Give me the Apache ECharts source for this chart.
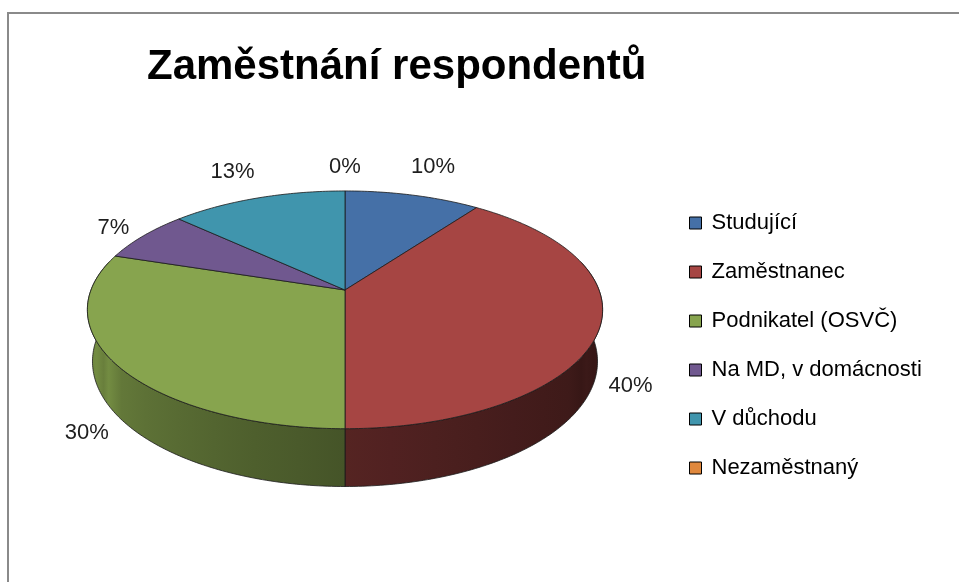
<!DOCTYPE html>
<html>
<head>
<meta charset="utf-8">
<script src="https://cdn.jsdelivr.net/npm/echarts@6/dist/echarts.min.js"></script>
<style>
  html, body { margin: 0; padding: 0; background: #fff; }
  #chartContainerID { width: 959px; height: 582px; }
</style>
</head>
<body>
<div id="chartContainerID"></div>
<script>
let categories = ['Studující', 'Zaměstnanec', 'Podnikatel (OSVČ)', 'Na MD, v domácnosti', 'V důchodu', 'Nezaměstnaný'];
let values = [10, 40, 30, 7, 13, 0];
let colors = ['#4570A7', '#A64543', '#87A44E', '#70588F', '#4095AD', '#E0883D'];

let chartContainerID = document.getElementById("chartContainerID");
let myChart = echarts.init(chartContainerID);

let total = values.reduce((a, b) => a + b, 0);
let cum = [];
let acc = 0;
for (let i = 0; i < values.length; i++) {
  cum.push(acc);
  acc += values[i];
}

// tilted pie, simple perspective
let cx = 345, cy = 290, rad = 254;
let sinE = 0.455, cosE = Math.sqrt(1 - 0.455 * 0.455);
let camD = 5.34, depth = 0.23;
let font = '22px "Liberation Sans"';

function proj(X, Y, Z) {
  let u = Y * cosE + Z * sinE;
  let w = Z * cosE - Y * sinE;
  let f = camD / (camD + w);
  return [cx + rad * X * f, cy - rad * u * f];
}

function shade(hex, k) {
  let r = parseInt(hex.slice(1, 3), 16), g = parseInt(hex.slice(3, 5), 16), b = parseInt(hex.slice(5, 7), 16);
  return 'rgb(' + Math.round(r * k) + ',' + Math.round(g * k) + ',' + Math.round(b * k) + ')';
}

let measureCtx = document.createElement('canvas').getContext('2d');
measureCtx.font = font;

function renderSlice(params, api) {
  let i = params.seriesIndex;
  let v = api.value(0);
  let a0 = cum[i] / total * Math.PI * 2;
  let a1 = (cum[i] + v) / total * Math.PI * 2;
  let color = colors[i];
  let children = [];

  // side wall (front part only)
  let lo = Math.max(a0, Math.PI / 2 - 0.25);
  let hi = Math.min(a1, Math.PI * 1.5 + 0.25);
  if (hi > lo) {
    let n = Math.max(2, Math.ceil((hi - lo) / 0.015));
    let topPts = [], botPts = [];
    for (let k = 0; k <= n; k++) {
      let t = lo + (hi - lo) * k / n;
      topPts.push(proj(Math.sin(t), 0, Math.cos(t)));
      botPts.push(proj(Math.sin(t), -depth, Math.cos(t)));
    }
    let pts = topPts.concat(botPts.reverse());
    let xs = topPts.map(p => p[0]);
    let xmin = Math.min.apply(null, xs), xmax = Math.max.apply(null, xs);
    let stops = [];
    for (let k = 0; k <= 12; k++) {
      let t = lo + (hi - lo) * k / 12;
      let p = proj(Math.sin(t), 0, Math.cos(t));
      let s = Math.min(0.92, Math.max(0, (t - Math.PI / 2) / Math.PI));
      let kk = 0.33 + 0.6 * Math.pow(s, 1.7);
      stops.push({ offset: (p[0] - xmin) / Math.max(1, xmax - xmin), color: shade(color, kk) });
    }
    stops.sort((a, b) => a.offset - b.offset);
    children.push({
      type: 'polygon',
      z2: 1,
      shape: { points: pts },
      style: {
        fill: new echarts.graphic.LinearGradient(xmin, 0, xmax, 0, stops, true),
        stroke: '#1a1a1a',
        lineWidth: 0.8
      }
    });
  }

  // top face
  if (v > 0) {
    let pts = [proj(0, 0, 0)];
    let n = Math.max(2, Math.ceil((a1 - a0) / 0.015));
    for (let k = 0; k <= n; k++) {
      let t = a0 + (a1 - a0) * k / n;
      pts.push(proj(Math.sin(t), 0, Math.cos(t)));
    }
    children.push({
      type: 'polygon',
      z2: 10,
      shape: { points: pts },
      style: { fill: color, stroke: '#1a1a1a', lineWidth: 0.8 }
    });
  }

  // percentage label outside the rim
  let mid = (a0 + a1) / 2;
  let front = Math.cos(mid) < 0;
  let yLevel = front ? -depth : 0;
  let rim = proj(Math.sin(mid), yLevel, Math.cos(mid));
  let c0 = proj(0, yLevel, 0);
  let dx = rim[0] - c0[0], dy = rim[1] - c0[1];
  let len = Math.sqrt(dx * dx + dy * dy) || 1;
  dx /= len; dy /= len;
  let text = Math.round(v / total * 100) + '%';
  let tw = measureCtx.measureText(text).width;
  let push = 13 + Math.abs(dx) * tw / 2 + Math.abs(dy) * 11;
  children.push({
    type: 'text',
    z2: 20,
    style: {
      text: text,
      x: rim[0] + dx * push,
      y: rim[1] + dy * push,
      align: 'center',
      verticalAlign: 'middle',
      font: font,
      fill: '#1e1e1e'
    }
  });

  return { type: 'group', children: children };
}

let series = [];
for (let i = 0; i < categories.length; i++) {
  series.push({
    type: 'custom',
    name: categories[i],
    coordinateSystem: 'none',
    renderItem: renderSlice,
    data: [[values[i]]],
    silent: true
  });
}

var option = {
  animation: false,
  color: colors,
  title: {
    text: 'Zaměstnání respondentů',
    left: 147,
    top: 46,
    padding: 0,
    textStyle: { fontSize: 42, fontWeight: 'bold', fontFamily: 'Liberation Sans', color: '#000' }
  },
  legend: {
    orient: 'vertical',
    left: 689,
    top: 211,
    padding: 0,
    itemWidth: 12,
    itemHeight: 12,
    itemGap: 25,
    icon: 'rect',
    itemStyle: { borderColor: '#000', borderWidth: 1 },
    textStyle: { fontSize: 22, fontFamily: 'Liberation Sans', color: '#000', lineHeight: 24, padding: [0, 0, 0, 5] },
    data: categories
  },
  graphic: [{
    type: 'rect',
    silent: true,
    shape: { x: 8, y: 13, width: 1000, height: 1000 },
    style: { fill: 'none', stroke: '#8a8a8a', lineWidth: 2 }
  }],
  series: series
};

myChart.setOption(option);
</script>
</body>
</html>
